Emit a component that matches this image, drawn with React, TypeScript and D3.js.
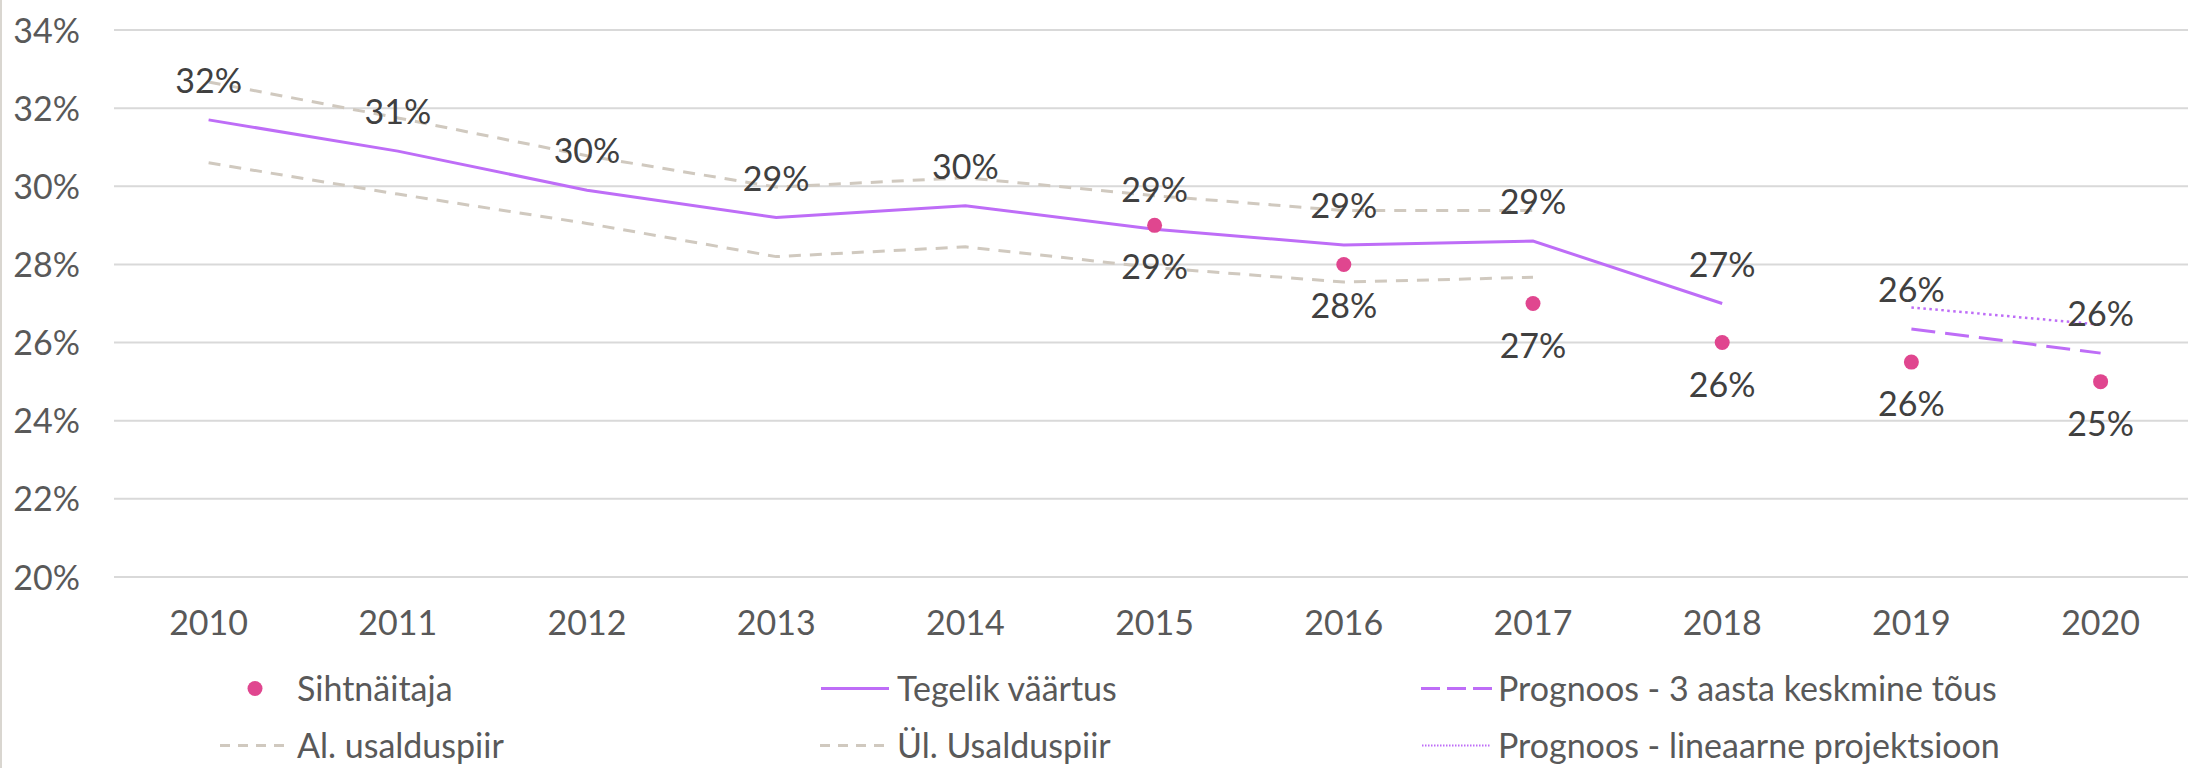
import React from 'react';
import * as d3 from 'd3';

const years = ['2010','2011','2012','2013','2014','2015','2016','2017','2018','2019','2020'];
const actualValues: (number | null)[] = [31.7, 30.9, 29.9, 29.2, 29.5, 28.9, 28.5, 28.6, 27.0, null, null];
const targetValues: (number | null)[] = [null, null, null, null, null, 29.0, 28.0, 27.0, 26.0, 25.5, 25.0];
const lowerCI: (number | null)[] = [30.6, 29.8, 29.05, 28.2, 28.45, 27.92, 27.55, 27.67, null, null, null];
const upperCI: (number | null)[] = [32.67, 31.75, 30.78, 29.98, 30.22, 29.76, 29.38, 29.38, null, null, null];
const forecastAvg: (number | null)[] = [null, null, null, null, null, null, null, null, null, 26.35, 25.73];
const forecastLinear: (number | null)[] = [null, null, null, null, null, null, null, null, null, 26.9, 26.46];
const yTicks = [20, 22, 24, 26, 28, 30, 32, 34];

const W = 2188;
const H = 768;
const FONT = 'Lato, "Open Sans", sans-serif';
const PURPLE = '#BE6DF7';
const PINK = '#E0468F';
const GREYDASH = '#D0C9BF';
const GRID = '#D9D9D9';

export default function App() {
  const x = d3.scaleBand<string>().domain(years).range([114, 114 + 11 * 189.2]);
  const cx = (yr: string) => (x(yr) as number) + x.bandwidth() / 2;
  const y = d3.scaleLinear().domain([20, 34]).range([577, 30]);

  const line = d3
    .line<{ yr: string; v: number | null }>()
    .defined((d) => d.v !== null)
    .x((d) => cx(d.yr))
    .y((d) => y(d.v as number));

  const toPts = (arr: (number | null)[]) => years.map((yr, i) => ({ yr, v: arr[i] }));
  const pct = (v: number) => `${Math.round(v)}%`;

  const legendItems = [
    { col: 0, row: 0, label: 'Sihtnäitaja', kind: 'dot' },
    { col: 1, row: 0, label: 'Tegelik väärtus', kind: 'solid' },
    { col: 2, row: 0, label: 'Prognoos - 3 aasta keskmine tõus', kind: 'dashPurple' },
    { col: 0, row: 1, label: 'Al. usalduspiir', kind: 'dashGrey' },
    { col: 1, row: 1, label: 'Ül. Usalduspiir', kind: 'dashGrey' },
    { col: 2, row: 1, label: 'Prognoos - lineaarne projektsioon', kind: 'dot2' },
  ];
  const legendX = [297, 897, 1498];
  const legendBase = [701, 758];

  return (
    <div style={{ position: 'absolute', left: 0, top: 0 }}>
      <svg width={W} height={H} style={{ display: 'block', background: '#fff' }} fontFamily={FONT}>
        <rect x={0} y={0} width={2} height={H} fill="#D9D6D0" />
        {yTicks.map((t) => (
          <g key={t}>
            <line x1={114} x2={W} y1={y(t)} y2={y(t)} stroke={GRID} strokeWidth={2} />
            <text x={80} y={y(t) + 12.5} textAnchor="end" fontSize={34} fill="#595959">
              {t}%
            </text>
          </g>
        ))}
        {years.map((yr) => (
          <text key={yr} x={cx(yr)} y={635} textAnchor="middle" fontSize={34} fill="#595959">
            {yr}
          </text>
        ))}
        <path d={line(toPts(lowerCI)) || ''} fill="none" stroke={GREYDASH} strokeWidth={3} strokeDasharray="12,9" />
        <path d={line(toPts(upperCI)) || ''} fill="none" stroke={GREYDASH} strokeWidth={3} strokeDasharray="12,9" />
        <path d={line(toPts(actualValues)) || ''} fill="none" stroke={PURPLE} strokeWidth={3} />
        <path d={line(toPts(forecastAvg)) || ''} fill="none" stroke={PURPLE} strokeWidth={3} strokeDasharray="24,10" />
        <path d={line(toPts(forecastLinear)) || ''} fill="none" stroke={PURPLE} strokeWidth={2.5} strokeDasharray="2.5,3.5" />
        {years.map((yr, i) =>
          targetValues[i] !== null ? (
            <circle key={yr} cx={cx(yr)} cy={y(targetValues[i] as number)} r={7.5} fill={PINK} />
          ) : null
        )}
        {years.map((yr, i) =>
          actualValues[i] !== null ? (
            <text key={'a' + yr} x={cx(yr)} y={y(actualValues[i] as number) - 27} textAnchor="middle" fontSize={34} fill="#404040">
              {pct(actualValues[i] as number)}
            </text>
          ) : null
        )}
        {years.map((yr, i) =>
          targetValues[i] !== null ? (
            <text key={'t' + yr} x={cx(yr)} y={y(targetValues[i] as number) + 54} textAnchor="middle" fontSize={34} fill="#404040">
              {pct(targetValues[i] as number)}
            </text>
          ) : null
        )}
        {years.map((yr, i) =>
          forecastAvg[i] !== null ? (
            <text key={'f' + yr} x={cx(yr)} y={y(forecastAvg[i] as number) - 27} textAnchor="middle" fontSize={34} fill="#404040">
              {pct(forecastAvg[i] as number)}
            </text>
          ) : null
        )}
        {legendItems.map((it) => {
          const tx = legendX[it.col];
          const by = legendBase[it.row];
          const my = by - 12.5;
          let marker: React.ReactNode = null;
          if (it.kind === 'dot') marker = <circle cx={tx - 42} cy={my} r={7.5} fill={PINK} />;
          else if (it.kind === 'solid')
            marker = <line x1={tx - 76} x2={tx - 8} y1={my} y2={my} stroke={PURPLE} strokeWidth={3} />;
          else if (it.kind === 'dashPurple')
            marker = <line x1={tx - 77} x2={tx - 6} y1={my} y2={my} stroke={PURPLE} strokeWidth={3} strokeDasharray="19,7" />;
          else if (it.kind === 'dashGrey')
            marker = <line x1={tx - 77} x2={tx - 13} y1={my} y2={my} stroke={GREYDASH} strokeWidth={3} strokeDasharray="10,8" />;
          else
            marker = <line x1={tx - 76} x2={tx - 8} y1={my} y2={my} stroke={PURPLE} strokeWidth={2} strokeDasharray="1.5,1.5" />;
          return (
            <g key={it.label}>
              {marker}
              <text x={tx} y={by} fontSize={34} fill="#595959">
                {it.label}
              </text>
            </g>
          );
        })}
      </svg>
    </div>
  );
}
